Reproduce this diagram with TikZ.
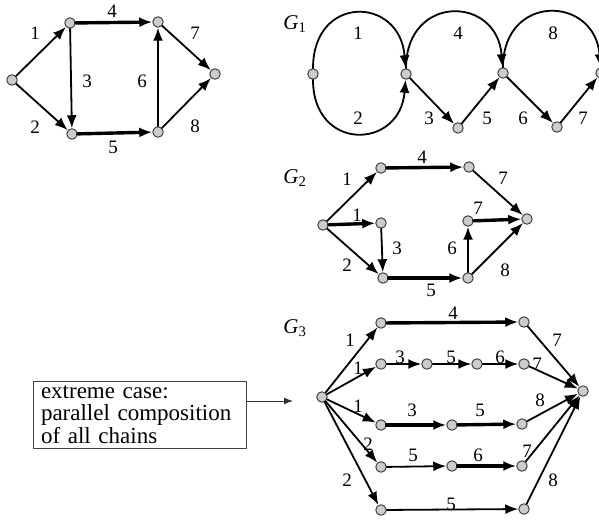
\documentclass[tikz,border=0pt]{standalone}
\usepackage{fontspec}
\setmainfont{Liberation Serif}
\usetikzlibrary{arrows.meta}

\begin{document}
\begin{tikzpicture}[x=1pt, y=-1pt, line cap=round, line join=round]

% --- Global TikZ Styles ---
\tikzset{
    vertex/.style={
        circle,
        draw=black!75,
        fill=black!20,
        line width=1pt,
        inner sep=0pt,
        minimum size=10.5pt
    },
    edge/.style={
        -{Latex[length=13pt,width=10pt]},
        line width=1.8pt,
        draw=black
    },
    thickedge/.style={
        edge,
        line width=3.4pt
    },
    pointer/.style={
        -{Latex[length=9pt,width=7pt]},
        line width=1pt,
        draw=black!80
    },
    lbl/.style={
        font=\fontsize{19}{21}\selectfont,
        inner sep=0pt
    },
    glbl/.style={
        font=\fontsize{21}{23}\selectfont,
        inner sep=0pt
    },
    notebox/.style={
        draw=black!75,
        line width=1pt,
        font=\fontsize{23}{22.5}\selectfont,
        align=left,
        text width=197pt,
        minimum width=213pt,
        minimum height=67pt,
        inner sep=0pt
    }
}

\useasboundingbox (0,0) rectangle (599,521);

% =========================================================================
% --- Original network ---
% =========================================================================
\node[vertex] (s) at (12,80) {};
\node[vertex] (a) at (70,23) {};
\node[vertex] (b) at (72,134) {};
\node[vertex] (c) at (158,22) {};
\node[vertex] (d) at (158,132) {};
\node[vertex] (t) at (215,74) {};

\draw[edge] (s) -- (a);
\draw[edge] (s) -- (b);
\draw[edge] (a) -- (b);
\draw[thickedge] (a) -- (c);
\draw[thickedge] (b) -- (d);
\draw[edge] (d) -- (c);
\draw[edge] (c) -- (t);
\draw[edge] (d) -- (t);

\node[lbl] (l1) at (35,33) {1};
\node[lbl] (l2) at (35,127) {2};
\node[lbl] (l3) at (87,81) {3};
\node[lbl] (l4) at (112,11) {4};
\node[lbl] (l5) at (113,147) {5};
\node[lbl] (l6) at (142,81) {6};
\node[lbl] (l7) at (195,33) {7};
\node[lbl] (l8) at (195,126) {8};

% =========================================================================
% --- G_1: serial composition ---
% =========================================================================
\node[glbl] (gone) at (295,24) {\textit{G}\textsubscript{1}};

\node[vertex] (g1n0) at (313,74) {};
\node[vertex] (g1n1) at (406,74) {};
\node[vertex] (g1m1) at (458,128) {};
\node[vertex] (g1n2) at (503,73) {};
\node[vertex] (g1m2) at (557,127) {};
\node[vertex] (g1n3) at (601,73) {};

% --- Bogen ---
\draw[edge] (g1n0) .. controls +(0,-80) and +(-6,-78) .. (g1n1);
\draw[edge] (g1n0) .. controls +(0,78) and +(-6,76) .. (g1n1);
\draw[edge] (g1n1) .. controls +(0,-80) and +(-6,-78) .. (g1n2);
\draw[edge] (g1n2) .. controls +(0,-80) and +(-6,-78) .. (g1n3);

\draw[edge] (g1n1) -- (g1m1);
\draw[edge] (g1m1) -- (g1n2);
\draw[edge] (g1n2) -- (g1m2);
\draw[edge] (g1m2) -- (g1n3);

\node[lbl] (g1l1) at (358,33) {1};
\node[lbl] (g1l2) at (358,118) {2};
\node[lbl] (g1l4) at (458,33) {4};
\node[lbl] (g1l3) at (429,118) {3};
\node[lbl] (g1l5) at (487,118) {5};
\node[lbl] (g1l6) at (523,118) {6};
\node[lbl] (g1l7) at (583,118) {7};
\node[lbl] (g1l8) at (553,33) {8};

% =========================================================================
% --- G_2 ---
% =========================================================================
\node[glbl] (gtwo) at (295,178) {\textit{G}\textsubscript{2}};

\node[vertex] (g2s) at (323,225) {};
\node[vertex] (g2a) at (381,168) {};
\node[vertex] (g2c) at (469,167) {};
\node[vertex] (g2b1) at (381,223) {};
\node[vertex] (g2b) at (383,278) {};
\node[vertex] (g2d) at (468,278) {};
\node[vertex] (g2e) at (468,221) {};
\node[vertex] (g2t) at (527,219) {};

\draw[edge] (g2s) -- (g2a);
\draw[thickedge] (g2a) -- (g2c);
\draw[edge] (g2c) -- (g2t);
\draw[thickedge] (g2s) -- (g2b1);
\draw[edge] (g2b1) -- (g2b);
\draw[edge] (g2s) -- (g2b);
\draw[thickedge] (g2b) -- (g2d);
\draw[edge] (g2d) -- (g2e);
\draw[thickedge] (g2e) -- (g2t);
\draw[edge] (g2d) -- (g2t);

\node[lbl] (g2l1) at (347,179) {1};
\node[lbl] (g2l4) at (422,157) {4};
\node[lbl] (g2l7) at (503,178) {7};
\node[lbl] (g2l1b) at (357,215) {1};
\node[lbl] (g2l3) at (397,248) {3};
\node[lbl] (g2l2) at (347,265) {2};
\node[lbl] (g2l5) at (431,290) {5};
\node[lbl] (g2l6) at (452,248) {6};
\node[lbl] (g2l7b) at (478,208) {7};
\node[lbl] (g2l8) at (505,270) {8};

% =========================================================================
% --- G_3: alle ketens parallel ---
% =========================================================================
\node[glbl] (gthree) at (295,328) {\textit{G}\textsubscript{3}};

\node[vertex] (g3s) at (322,397) {};
\node[vertex] (g3t) at (583,391) {};

% --- rij 1 ---
\node[vertex] (r1a) at (381,323) {};
\node[vertex] (r1b) at (524,322) {};
% --- rij 2 ---
\node[vertex] (r2a) at (381,364) {};
\node[vertex] (r2b) at (427,364) {};
\node[vertex] (r2c) at (477,364) {};
\node[vertex] (r2d) at (524,364) {};
% --- rij 3 ---
\node[vertex] (r3a) at (381,425) {};
\node[vertex] (r3b) at (452,425) {};
\node[vertex] (r3c) at (522,424) {};
% --- rij 4 ---
\node[vertex] (r4a) at (381,467) {};
\node[vertex] (r4b) at (452,466) {};
\node[vertex] (r4c) at (522,466) {};
% --- rij 5 ---
\node[vertex] (r5a) at (381,510) {};
\node[vertex] (r5b) at (524,509) {};

\draw[edge] (g3s) -- (r1a);
\draw[thickedge] (r1a) -- (r1b);
\draw[edge] (r1b) -- (g3t);

\draw[edge] (g3s) -- (r2a);
\draw[edge] (r2a) -- (r2b);
\draw[edge] (r2b) -- (r2c);
\draw[edge] (r2c) -- (r2d);
\draw[edge] (r2d) -- (g3t);

\draw[edge] (g3s) -- (r3a);
\draw[thickedge] (r3a) -- (r3b);
\draw[thickedge] (r3b) -- (r3c);
\draw[edge] (r3c) -- (g3t);

\draw[edge] (g3s) -- (r4a);
\draw[edge] (r4a) -- (r4b);
\draw[thickedge] (r4b) -- (r4c);
\draw[edge] (r4c) -- (g3t);

\draw[edge] (g3s) -- (r5a);
\draw[edge] (r5a) -- (r5b);
\draw[edge] (r5b) -- (g3t);

\node[lbl] (r1l1) at (350,340) {1};
\node[lbl] (r1l4) at (453,313) {4};
\node[lbl] (r1l7) at (557,340) {7};
\node[lbl] (r2l1) at (358,368) {1};
\node[lbl] (r2l3) at (400,357) {3};
\node[lbl] (r2l5) at (451,357) {5};
\node[lbl] (r2l6) at (500,357) {6};
\node[lbl] (r2l7) at (537,364) {7};
\node[lbl] (r3l1) at (358,406) {1};
\node[lbl] (r3l3) at (412,410) {3};
\node[lbl] (r3l5) at (480,410) {5};
\node[lbl] (r3l8) at (540,400) {8};
\node[lbl] (r4l2) at (368,444) {2};
\node[lbl] (r4l5) at (413,455) {5};
\node[lbl] (r4l6) at (478,455) {6};
\node[lbl] (r4l7) at (527,451) {7};
\node[lbl] (r5l2) at (347,480) {2};
\node[lbl] (r5l5) at (451,504) {5};
\node[lbl] (r5l8) at (553,480) {8};

% --- Uitleg ---
\node[notebox] (note) at (139.5,414.5)
    {extreme case:\\parallel composition\\of all chains};
\coordinate (notetip) at (293,401);
\draw[pointer] (note.east |- notetip) -- (notetip);

\end{tikzpicture}
\end{document}
